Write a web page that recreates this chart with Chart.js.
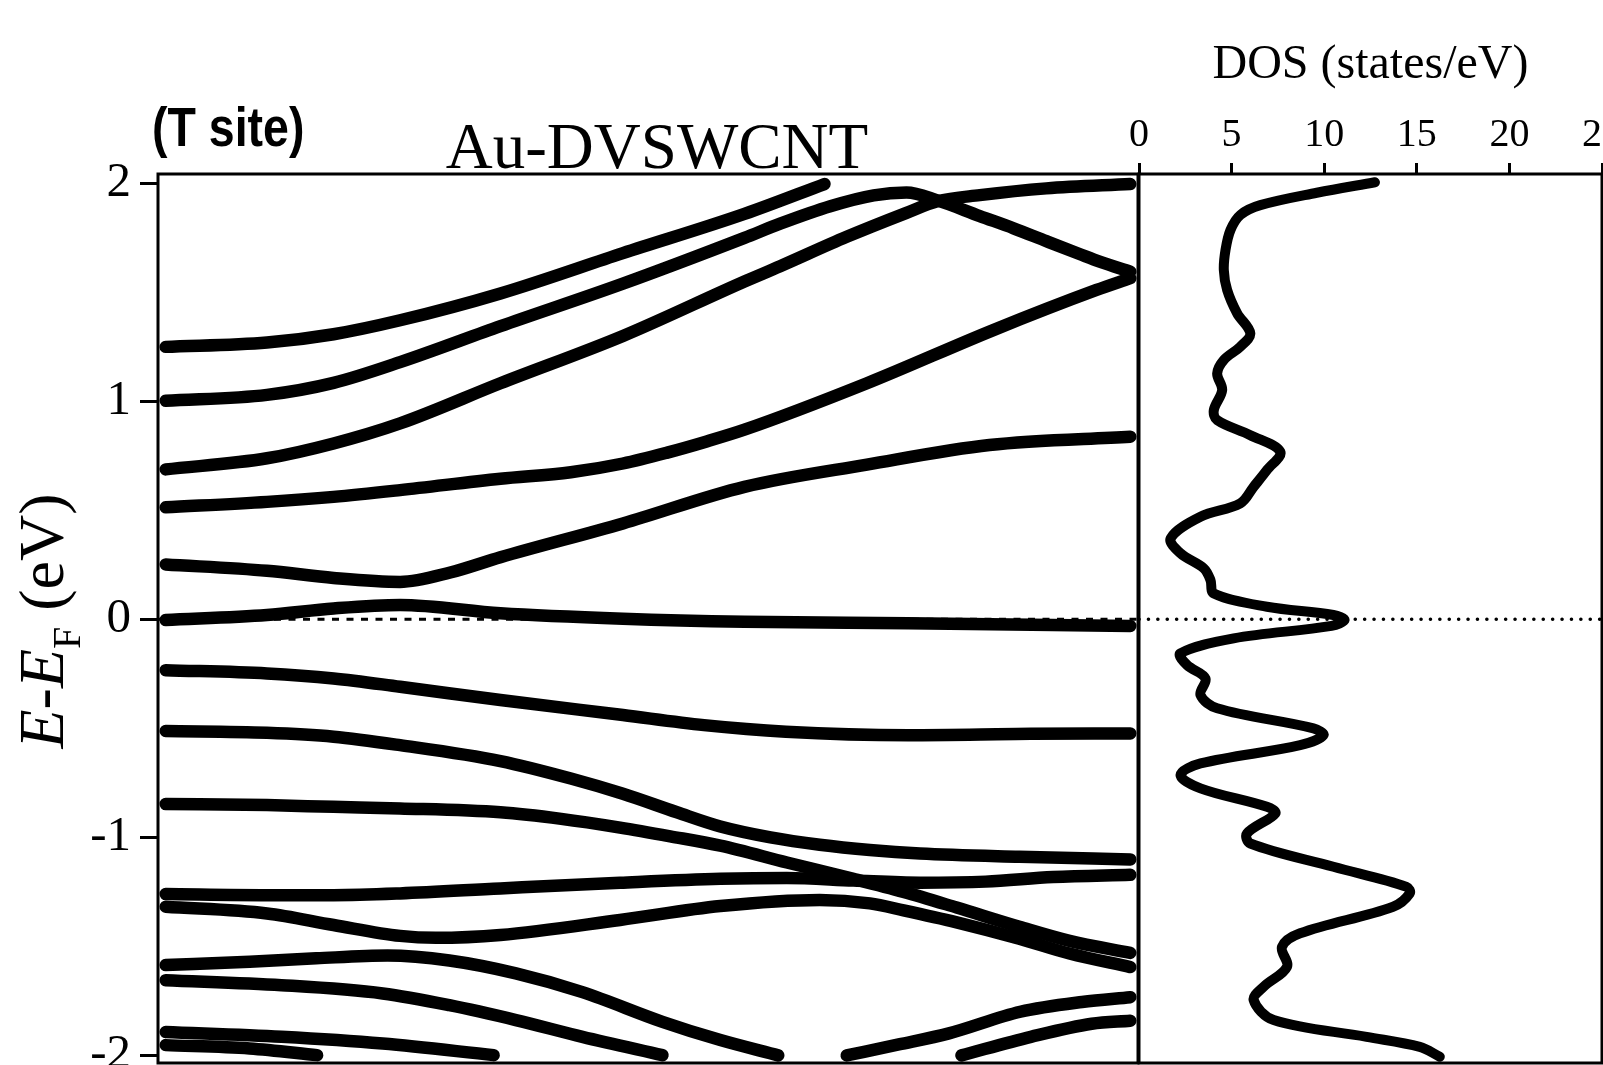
<!DOCTYPE html>
<html><head><meta charset="utf-8">
<script src="https://cdn.jsdelivr.net/npm/chart.js@4.4.1/dist/chart.umd.min.js"></script>
<style>
html,body{margin:0;padding:0;background:#fff;}
#wrap{position:relative;width:1603px;height:1065px;overflow:hidden;background:#fff;}
#bands{position:absolute;left:0;top:0;}
#dos{position:absolute;left:1100px;top:0;}
</style></head><body>
<div id="wrap">
<canvas id="bands" width="1140" height="1065"></canvas>
<canvas id="dos" width="503" height="1065"></canvas>
</div>
<script>
// ---------- data (k along the path 0..1, energy E-EF in eV) ----------
const energyTicks = [-2, -1, 0, 1, 2];
const dosTicks = [0, 5, 10, 15, 20, 25];

const band_A = [[0,1.25],[0.105,1.27],[0.174,1.308],[0.243,1.372],[0.347,1.495],[0.474,1.68],[0.600,1.86],[0.683,1.997]];
const band_B = [[0,1.003],[0.105,1.03],[0.174,1.085],[0.243,1.18],[0.347,1.345],[0.474,1.54],[0.600,1.75],[0.637,1.815],[0.689,1.895],[0.734,1.945],[0.768,1.958],[0.80,1.922],[0.844,1.85],[0.879,1.794],[0.913,1.735],[0.948,1.675],[0.969,1.64],[1.0,1.595]];
const band_C = [[0,0.688],[0.105,0.739],[0.174,0.807],[0.243,0.899],[0.347,1.083],[0.474,1.30],[0.600,1.55],[0.637,1.62],[0.706,1.755],[0.768,1.865],[0.80,1.918],[0.844,1.946],[0.913,1.977],[1.0,1.997]];
const band_D = [[0,0.514],[0.105,0.539],[0.174,0.562],[0.243,0.593],[0.347,0.645],[0.42,0.675],[0.474,0.715],[0.52,0.765],[0.56,0.815],[0.6,0.87],[0.727,1.083],[0.858,1.327],[0.965,1.511],[1.0,1.565]];
const band_E = [[0,0.252],[0.105,0.223],[0.174,0.19],[0.243,0.172],[0.295,0.215],[0.347,0.285],[0.474,0.44],[0.6,0.608],[0.727,0.71],[0.854,0.80],[1.0,0.838]];
const band_F = [[0,-0.003],[0.105,0.02],[0.174,0.05],[0.243,0.066],[0.347,0.028],[0.474,0.003],[0.6,-0.011],[0.77,-0.018],[1.0,-0.03]];
const band_G = [[0,-0.233],[0.105,-0.248],[0.174,-0.271],[0.243,-0.309],[0.347,-0.37],[0.474,-0.439],[0.558,-0.485],[0.643,-0.515],[0.77,-0.531],[0.897,-0.525],[1.0,-0.523]];
const band_H = [[0,-0.512],[0.105,-0.52],[0.174,-0.538],[0.243,-0.577],[0.347,-0.65],[0.42,-0.73],[0.474,-0.80],[0.53,-0.885],[0.575,-0.95],[0.627,-1.0],[0.678,-1.034],[0.73,-1.058],[0.782,-1.074],[0.885,-1.089],[1.0,-1.101]];
const band_I = [[0,-0.847],[0.105,-0.852],[0.174,-0.86],[0.243,-0.867],[0.347,-0.885],[0.41,-0.915],[0.471,-0.955],[0.523,-0.995],[0.575,-1.038],[0.644,-1.115],[0.713,-1.19],[0.765,-1.25],[0.82,-1.322],[0.885,-1.41],[0.937,-1.475],[1.0,-1.53]];
const band_J = [[0,-1.26],[0.105,-1.265],[0.174,-1.265],[0.243,-1.257],[0.347,-1.234],[0.471,-1.208],[0.575,-1.19],[0.644,-1.186],[0.713,-1.198],[0.782,-1.208],[0.85,-1.203],[0.92,-1.182],[1.0,-1.172]];
const band_K = [[0,-1.318],[0.105,-1.349],[0.174,-1.402],[0.243,-1.452],[0.28,-1.461],[0.347,-1.448],[0.471,-1.379],[0.575,-1.315],[0.678,-1.287],[0.73,-1.303],[0.765,-1.335],[0.82,-1.39],[0.885,-1.465],[0.937,-1.533],[1.0,-1.595]];
const band_L = [[0,-1.586],[0.087,-1.571],[0.156,-1.555],[0.23,-1.542],[0.294,-1.565],[0.363,-1.624],[0.432,-1.71],[0.515,-1.846],[0.575,-1.93],[0.635,-2.0]];
const band_M = [[0,-1.655],[0.12,-1.678],[0.225,-1.716],[0.294,-1.77],[0.363,-1.838],[0.432,-1.915],[0.515,-1.999]];
const band_N = [[0,-1.893],[0.12,-1.915],[0.225,-1.946],[0.34,-1.999]];
const band_O = [[0,-1.953],[0.087,-1.968],[0.157,-1.999]];
const band_P = [[0.706,-2.0],[0.76,-1.95],[0.812,-1.899],[0.886,-1.80],[0.95,-1.755],[1.0,-1.733]];
const band_Q = [[0.825,-2.0],[0.897,-1.915],[0.96,-1.855],[1.0,-1.841]];

const dosEnergy = [2.005,1.957,1.90,1.855,1.786,1.694,1.602,1.511,1.404,1.312,1.251,1.19,1.128,1.052,0.96,0.914,0.845,0.769,0.685,0.608,0.532,0.471,0.372,0.303,0.234,0.18,0.119,0.058,0.02,-0.003,-0.03,-0.087,-0.156,-0.21,-0.271,-0.347,-0.408,-0.5,-0.531,-0.577,-0.661,-0.714,-0.775,-0.86,-0.89,-0.982,-1.028,-1.135,-1.227,-1.257,-1.318,-1.44,-1.502,-1.594,-1.685,-1.746,-1.838,-1.915,-1.961,-2.006];
const dosValue  = [12.74,9.6,6.55,5.47,4.94,4.67,4.58,4.76,5.30,6.01,5.47,4.58,4.22,4.49,4.04,4.22,6.01,7.63,6.91,6.19,5.47,3.32,1.71,2.24,3.50,3.86,4.04,6.91,10.5,11.1,10.4,5.11,2.24,2.60,3.59,3.32,4.22,9.42,9.96,8.70,3.32,2.24,3.32,6.91,7.36,5.83,6.01,10.5,14.45,14.62,13.72,8.70,7.72,7.99,6.73,6.19,7.27,12.29,15.16,16.24];

const kRange = [-0.008, 1.008];
const eRange = [-2.035, 2.043];
const dosRange = [0, 25];

// ---------- helpers ----------
const SERIF = '"Liberation Serif", "Times New Roman", serif';
const bandList = [band_A, band_B, band_C, band_D, band_E, band_F, band_G, band_H, band_I, band_J, band_K, band_L, band_M, band_N, band_O, band_P, band_Q];

const framePlugin = {
  id: 'frame',
  afterDraw(chart) {
    const {ctx, chartArea: a} = chart;
    ctx.save();
    ctx.strokeStyle = '#000';
    ctx.lineWidth = 3;
    ctx.strokeRect(a.left, a.top, a.right - a.left, a.bottom - a.top);
    ctx.restore();
  }
};

const textPlugin = {
  id: 'texts',
  afterDraw(chart) {
    const ctx = chart.ctx;
    ctx.save();
    ctx.fillStyle = '#000';
    ctx.textBaseline = 'alphabetic';
    // main title
    ctx.font = '65px ' + SERIF;
    ctx.textAlign = 'center';
    ctx.fillText('Au-DVSWCNT', 657, 168);
    // site label (condensed bold sans)
    ctx.save();
    ctx.translate(152, 146);
    ctx.scale(0.83, 1);
    ctx.font = 'bold 56px "Liberation Sans", Arial, sans-serif';
    ctx.textAlign = 'left';
    ctx.fillText('(T site)', 0, 0);
    ctx.restore();
    // y-axis title: E-E_F (eV)
    ctx.save();
    ctx.translate(63, 621);
    ctx.rotate(-Math.PI / 2);
    ctx.textAlign = 'left';
    const parts = [
      {t: 'E', f: 'italic 64px ' + SERIF, dy: 0},
      {t: '-', f: '64px ' + SERIF, dy: 0},
      {t: 'E', f: 'italic 64px ' + SERIF, dy: 0},
      {t: 'F', f: '40px ' + SERIF, dy: 17},
      {t: ' (eV)', f: '64px ' + SERIF, dy: 0}
    ];
    let total = 0;
    parts.forEach(p => { ctx.font = p.f; p.w = ctx.measureText(p.t).width; total += p.w; });
    let x = -total / 2;
    parts.forEach(p => { ctx.font = p.f; ctx.fillText(p.t, x, p.dy); x += p.w; });
    ctx.restore();
    ctx.restore();
  }
};

// ---------- band structure chart ----------
const bandDatasets = bandList.map(b => ({
  data: b.map(p => ({x: p[0], y: p[1]})),
  borderColor: '#000',
  borderWidth: 12.5,
  borderCapStyle: 'round',
  borderJoinStyle: 'round',
  pointRadius: 0,
  cubicInterpolationMode: 'monotone',
  fill: false
}));
bandDatasets.push({
  data: [{x: kRange[0], y: 0}, {x: kRange[1], y: 0}],
  borderColor: '#000', borderWidth: 3, borderDash: [7, 7.5], pointRadius: 0, fill: false
});

new Chart(document.getElementById('bands'), {
  type: 'line',
  data: {datasets: bandDatasets},
  options: {
    responsive: false, animation: false, devicePixelRatio: 1,
    layout: {padding: {top: 174, bottom: 2, left: 0, right: 2}},
    plugins: {legend: {display: false}, tooltip: {enabled: false}, title: {display: false}},
    scales: {
      x: {type: 'linear', min: kRange[0], max: kRange[1], display: false},
      y: {
        type: 'linear', min: eRange[0], max: eRange[1],
        afterFit(s) { s.width = 158; s.paddingTop = 0; s.paddingBottom = 0; },
        afterBuildTicks(s) { s.ticks = energyTicks.map(v => ({value: v})); },
        ticks: {font: {family: SERIF, size: 49, lineHeight: 1}, color: '#000', padding: 9, callback: v => String(v)},
        grid: {drawOnChartArea: false, drawTicks: true, tickLength: 18, tickWidth: 3, tickColor: '#000'},
        border: {display: false}
      }
    }
  },
  plugins: [framePlugin, textPlugin]
});

// ---------- DOS chart ----------
new Chart(document.getElementById('dos'), {
  type: 'line',
  data: {datasets: [
    {
      data: dosValue.map((v, i) => ({x: v, y: dosEnergy[i]})),
      borderColor: '#000', borderWidth: 10, borderCapStyle: 'round', borderJoinStyle: 'round',
      pointRadius: 0, tension: 0.35, fill: false
    },
    {
      data: [{x: dosRange[0], y: 0}, {x: dosRange[1], y: 0}],
      borderColor: '#000', borderWidth: 3.5, borderDash: [0.1, 9.3], borderCapStyle: 'round',
      pointRadius: 0, fill: false
    }
  ]},
  options: {
    responsive: false, animation: false, devicePixelRatio: 1,
    layout: {padding: {top: 0, bottom: 2, left: 39, right: 1}},
    plugins: {legend: {display: false}, tooltip: {enabled: false}},
    scales: {
      x: {
        type: 'linear', position: 'top', min: dosRange[0], max: dosRange[1],
        afterFit(s) { s.height = 174; s.paddingLeft = 0; s.paddingRight = 0; },
        afterBuildTicks(s) { s.ticks = dosTicks.map(v => ({value: v})); },
        ticks: {font: {family: SERIF, size: 40, lineHeight: 1}, color: '#000', padding: 8, maxRotation: 0, autoSkip: false},
        grid: {drawOnChartArea: false, drawTicks: true, tickLength: 11, tickWidth: 3, tickColor: '#000'},
        border: {display: false},
        title: {display: true, text: 'DOS (states/eV)', color: '#000',
                font: {family: SERIF, size: 48, lineHeight: 1}, padding: {top: 41, bottom: 0}}
      },
      y: {type: 'linear', min: eRange[0], max: eRange[1], display: false}
    }
  },
  plugins: [framePlugin]
});
</script>
</body></html>
